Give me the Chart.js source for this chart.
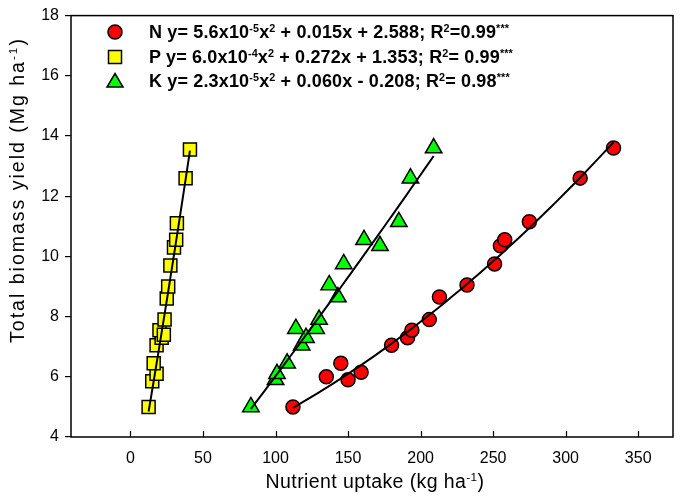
<!DOCTYPE html>
<html>
<head>
<meta charset="utf-8">
<script src="https://cdn.jsdelivr.net/npm/chart.js@4.4.0/dist/chart.umd.min.js"></script>
<style>
  html, body { margin: 0; padding: 0; background: #fff; }
  #wrap { position: relative; width: 685px; height: 496px; font-family: Arial, "Liberation Sans", sans-serif; color: #000; }
  #chart { position: absolute; left: 0; top: 0; }
  .row { position: absolute; left: 149px; height: 24px; line-height: 24px; font-weight: bold; font-size: 18px; letter-spacing: 0.15px; white-space: nowrap; }
  .mark { position: absolute; left: 105px; width: 20px; height: 20px; }
  sup { font-size: 0.6em; vertical-align: baseline; position: relative; top: -0.6em; }
  .xtitle { position: absolute; left: 175px; width: 400px; top: 470px; height: 22px; line-height: 22px; text-align: center; font-size: 19.5px; letter-spacing: 0.4px; }
  .ytitle { position: absolute; left: -183px; width: 400px; top: 179px; height: 22px; line-height: 22px; text-align: center; font-size: 19.5px; letter-spacing: 2px; transform: rotate(-90deg); }
</style>
</head>
<body>
<div id="wrap">
  <canvas id="chart" width="685" height="496"></canvas>

  <svg class="mark" style="top:22px" viewBox="0 0 20 20"><circle cx="10" cy="10" r="7" fill="#ff0000" stroke="#000" stroke-width="1.5"/></svg>
  <div class="row" style="top:20px">N y= 5.6x10<sup>-5</sup>x<sup>2</sup> + 0.015x + 2.588; R<sup>2</sup>=0.99<sup>***</sup></div>

  <svg class="mark" style="top:47px" viewBox="0 0 20 20"><rect x="3.5" y="3.5" width="13" height="13" fill="#ffff00" stroke="#000" stroke-width="1.5"/></svg>
  <div class="row" style="top:45px">P y= 6.0x10<sup>-4</sup>x<sup>2</sup> + 0.272x + 1.353; R<sup>2</sup>= 0.99<sup>***</sup></div>

  <svg class="mark" style="top:71px" viewBox="0 0 20 20"><polygon points="10,2.5 18,16 2,16" fill="#00ff00" stroke="#000" stroke-width="1.5"/></svg>
  <div class="row" style="top:69px">K y= 2.3x10<sup>-5</sup>x<sup>2</sup> + 0.060x - 0.208; R<sup>2</sup>= 0.98<sup>***</sup></div>

  <div class="xtitle">Nutrient uptake (kg ha<sup>-1</sup>)</div>
  <div class="ytitle">Total biomass yield (Mg ha<sup>-1</sup>)</div>
</div>

<script>
// values
const yieldN = [5.0, 6.0, 6.45, 5.9, 6.15, 7.05, 7.3, 7.55, 7.9, 8.65, 9.05, 9.75, 10.35, 10.55, 11.15, 12.6, 13.6];
const uptakeN = [112, 135, 145, 150, 159, 180, 191, 194, 206, 213, 232, 251, 255, 258, 275, 310, 333];

const yieldP = [5.0, 5.85, 6.1, 6.45, 7.05, 7.3, 7.55, 7.4, 7.9, 8.6, 9.0, 9.7, 10.3, 10.55, 11.1, 12.6, 13.55];
const uptakeP = [12.5, 15, 18, 16, 18, 21.5, 20, 23, 23.5, 25, 26, 27.5, 30, 31.5, 32, 38, 41];

const yieldK = [5.0, 5.9, 6.1, 6.45, 7.05, 7.3, 7.6, 7.6, 7.9, 8.65, 9.05, 9.75, 10.55, 10.35, 11.15, 12.6, 13.6];
const uptakeK = [83, 100, 101, 108, 118, 121, 114, 128, 130, 143, 137, 147, 161, 172, 185, 193, 209];

// quadratic fits from the legend: a, b, c
const fitN = [5.6e-5, 0.015, 2.588];
const fitP = [6.0e-4, 0.272, 1.353];
const fitK = [2.3e-5, 0.060, -0.208];

const xTicks = [0, 50, 100, 150, 200, 250, 300, 350];
const yTicks = [4, 6, 8, 10, 12, 14, 16, 18];

const toPoints = (xs, ys) => xs.map((x, i) => ({ x: x, y: ys[i] }));

const fitCurve = (coef, xs) => {
    const lo = Math.min(...xs);
    const hi = Math.max(...xs);
    const pts = [];
    for (let i = 0; i <= 40; i++) {
        const x = lo + (hi - lo) * i / 40;
        pts.push({ x: x, y: coef[0] * x * x + coef[1] * x + coef[2] });
    }
    return pts;
};

const lineSet = (coef, xs) => ({
    type: 'line',
    data: fitCurve(coef, xs),
    borderColor: '#000',
    borderWidth: 2,
    pointRadius: 0,
    fill: false,
    order: 0
});

const pointSet = (label, xs, ys, style, color, radius) => ({
    type: 'scatter',
    label: label,
    data: toPoints(xs, ys),
    pointStyle: style,
    pointRadius: radius,
    backgroundColor: color,
    borderColor: '#000',
    borderWidth: 1.5,
    order: 1
});

// box round the plot and ticks pointing in on the x axis
const frame = {
    id: 'frame',
    afterDraw(chart) {
        const { ctx, chartArea: a, scales } = chart;
        ctx.save();
        ctx.strokeStyle = '#000';
        ctx.lineWidth = 1.5;
        ctx.strokeRect(a.left, a.top, a.right - a.left, a.bottom - a.top);
        ctx.lineWidth = 1.2;
        xTicks.forEach(v => {
            const px = Math.round(scales.x.getPixelForValue(v)) + 0.5;
            ctx.beginPath();
            ctx.moveTo(px, a.bottom);
            ctx.lineTo(px, a.bottom - 6);
            ctx.stroke();
        });
        ctx.restore();
    }
};

const tickFont = { family: 'Arial, "Liberation Sans", sans-serif', size: 16 };

new Chart(document.getElementById('chart'), {
    data: {
        datasets: [
            lineSet(fitN, uptakeN),
            lineSet(fitP, uptakeP),
            lineSet(fitK, uptakeK),
            pointSet('N', uptakeN, yieldN, 'circle', '#ff0000', 7),
            pointSet('P', uptakeP, yieldP, 'rect', '#ffff00', 9.2),
            pointSet('K', uptakeK, yieldK, 'triangle', '#00ff00', 9.5)
        ]
    },
    options: {
        responsive: false,
        animation: false,
        layout: { padding: { top: 8, right: 12, left: 0, bottom: 0 } },
        plugins: {
            legend: { display: false },
            tooltip: { enabled: false }
        },
        scales: {
            x: {
                type: 'linear',
                min: -41,
                max: 374,
                afterBuildTicks: s => { s.ticks = xTicks.map(v => ({ value: v })); },
                afterFit: s => { s.height = 59; },
                grid: { drawOnChartArea: false, drawTicks: false },
                border: { display: false },
                ticks: { font: tickFont, color: '#000', padding: 12, maxRotation: 0, autoSkip: false }
            },
            y: {
                type: 'linear',
                min: 4,
                max: 18,
                afterBuildTicks: s => { s.ticks = yTicks.map(v => ({ value: v })); },
                afterFit: s => { s.width = 71; },
                grid: { drawOnChartArea: false, tickLength: 6, color: '#000', lineWidth: 1.2 },
                border: { display: false },
                ticks: { font: tickFont, color: '#000', padding: 6, autoSkip: false }
            }
        }
    },
    plugins: [frame]
});
</script>
</body>
</html>
